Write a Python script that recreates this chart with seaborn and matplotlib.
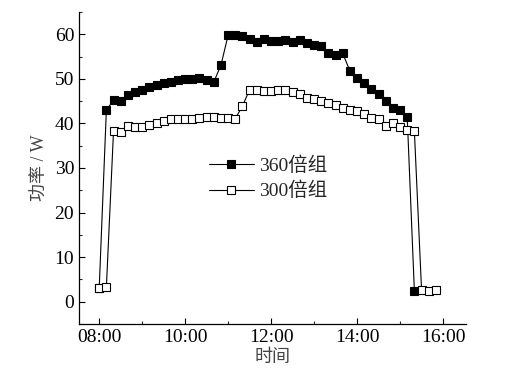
import matplotlib
matplotlib.use("Agg")
import matplotlib.pyplot as plt
import matplotlib.ticker as mticker
import seaborn as sns
import pandas as pd

# 360倍组 (filled squares)
times_360 = ["08:00", "08:10", "08:20", "08:30", "08:40", "08:50",
             "09:00", "09:10", "09:20", "09:30", "09:40", "09:50",
             "10:00", "10:10", "10:20", "10:30", "10:40", "10:50",
             "11:00", "11:10", "11:20", "11:30", "11:40", "11:50",
             "12:00", "12:10", "12:20", "12:30", "12:40", "12:50",
             "13:00", "13:10", "13:20", "13:30", "13:40", "13:50",
             "14:00", "14:10", "14:20", "14:30", "14:40", "14:50",
             "15:00", "15:10", "15:20"]
power_360 = [3.0, 43.0, 45.2, 45.0, 46.3, 47.1,
             47.5, 48.2, 48.6, 49.1, 49.3, 49.7,
             49.9, 49.9, 50.1, 49.7, 49.3, 53.1,
             59.8, 59.8, 59.6, 58.9, 58.3, 58.9,
             58.5, 58.5, 58.7, 58.2, 58.7, 58.0,
             57.5, 57.4, 55.7, 55.3, 55.7, 51.8,
             50.3, 49.0, 47.8, 46.6, 45.0, 43.4,
             43.0, 41.5, 2.4]

# 300倍组 (open squares)
times_300 = ["08:00", "08:10", "08:20", "08:30", "08:40", "08:50",
             "09:00", "09:10", "09:20", "09:30", "09:40", "09:50",
             "10:00", "10:10", "10:20", "10:30", "10:40", "10:50",
             "11:00", "11:10", "11:20", "11:30", "11:40", "11:50",
             "12:00", "12:10", "12:20", "12:30", "12:40", "12:50",
             "13:00", "13:10", "13:20", "13:30", "13:40", "13:50",
             "14:00", "14:10", "14:20", "14:30", "14:40", "14:50",
             "15:00", "15:10", "15:20", "15:30", "15:40", "15:50"]
power_300 = [3.0, 3.2, 38.3, 38.1, 39.4, 39.1,
             39.1, 39.6, 40.1, 40.6, 40.9, 40.9,
             40.9, 40.9, 41.3, 41.5, 41.5, 41.3,
             41.3, 41.1, 43.9, 47.6, 47.6, 47.3,
             47.3, 47.6, 47.5, 47.1, 46.6, 45.6,
             45.4, 45.0, 44.5, 44.1, 43.4, 43.0,
             42.8, 42.1, 41.3, 41.0, 39.4, 40.1,
             39.1, 38.5, 38.3, 2.7, 2.5, 2.6]

tick_hours = [8, 10, 12, 14, 16]


def to_hours(t):
    h, m = t.split(":")
    return int(h) + int(m) / 60


df360 = pd.DataFrame({"t": [to_hours(t) for t in times_360], "p": power_360})
df300 = pd.DataFrame({"t": [to_hours(t) for t in times_300], "p": power_300})

sns.set_style("ticks")
plt.rcParams["font.family"] = ["Liberation Serif", "Noto Sans CJK SC"]
plt.rcParams["xtick.direction"] = "in"
plt.rcParams["ytick.direction"] = "in"

fig = plt.figure(figsize=(5.13, 3.75), dpi=100)
ax = fig.add_axes([0.154, 0.136, 0.754, 0.832])

sns.lineplot(data=df360, x="t", y="p", ax=ax, color="black", lw=0.8,
             marker="s", markersize=5.5, markerfacecolor="black",
             markeredgecolor="black", markeredgewidth=0.8, label="360倍组")
sns.lineplot(data=df300, x="t", y="p", ax=ax, color="black", lw=0.8,
             marker="s", markersize=5.5, markerfacecolor="white",
             markeredgecolor="black", markeredgewidth=0.8, label="300倍组")

ax.set_xlim(7.53, 16.53)
ax.set_ylim(-5, 65)
ax.set_xticks(tick_hours)
ax.set_xticklabels([f"{h:02d}:00" for h in tick_hours])
ax.xaxis.set_minor_locator(mticker.MultipleLocator(1))
ax.yaxis.set_major_locator(mticker.MultipleLocator(10))
ax.yaxis.set_minor_locator(mticker.MultipleLocator(5))
ax.tick_params(which="major", length=4.5, width=0.8, labelsize=14, colors="black")
ax.tick_params(which="minor", length=2.5, width=0.8)
for s in ["top", "right"]:
    ax.spines[s].set_visible(False)
for s in ["left", "bottom"]:
    ax.spines[s].set_linewidth(0.9)
    ax.spines[s].set_color("black")

ax.set_xlabel("时间", fontsize=13, color="#444444", labelpad=2)
ax.set_ylabel("功率 / W", fontsize=13, color="#444444", labelpad=4)

ax.legend(loc="upper left", bbox_to_anchor=(0.336, 0.538), frameon=False,
          fontsize=14, handlelength=2.3, handletextpad=0.3, labelspacing=0.38,
          borderaxespad=0, borderpad=0)

fig.savefig("out.png", dpi=100)
